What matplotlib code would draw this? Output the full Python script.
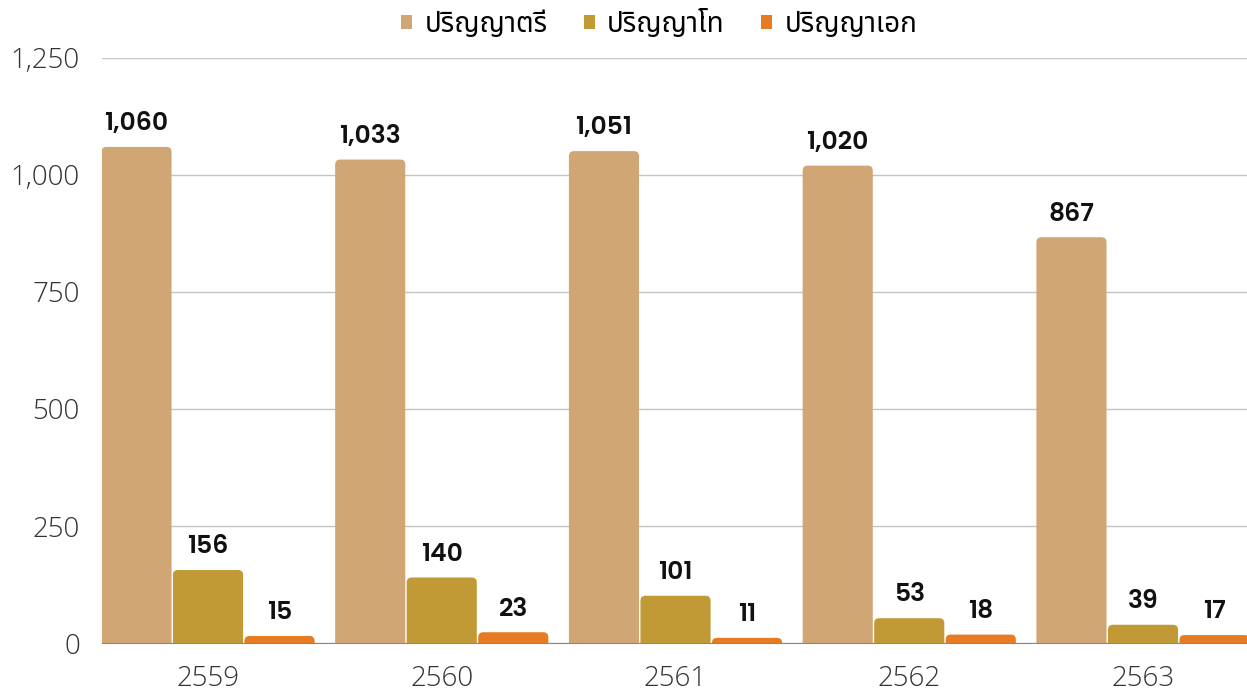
import matplotlib
matplotlib.use("Agg")
import matplotlib.pyplot as plt
from matplotlib.patches import FancyBboxPatch, Patch

years = ["2559", "2560", "2561", "2562", "2563"]
series_names = ["ปริญญาตรี", "ปริญญาโท", "ปริญญาเอก"]
bachelor = [1060, 1033, 1051, 1020, 867]
master = [156, 140, 101, 53, 39]
doctor = [15, 23, 11, 18, 17]
colors = ["#CFA674", "#C19A36", "#E87B22"]

plt.rcParams['font.family'] = ['Open Sans', 'Noto Sans Thai', 'DejaVu Sans']

fig = plt.figure(figsize=(12.47, 6.92), dpi=100)
ax = fig.add_axes([0.0818, 0.0708, 1 - 0.0818, 0.9162 - 0.0708])
ax.set_xlim(-0.4535, 4.445)
ax.set_ylim(0, 1250)

x = list(range(len(years)))
w = 0.30
offsets = [-0.306, 0.0, 0.306]
px_x = 233.75
px_y = 585.0 / 1250
r_px = 5.0
handles = []
for vals, off, c, name in zip([bachelor, master, doctor], offsets, colors, series_names):
    bars = ax.bar([xi + off for xi in x], vals, width=w, color=c, zorder=3)
    handles.append(Patch(facecolor=c, edgecolor="none", label=name))
    for b, v in zip(bars, vals):
        b.set_visible(False)
        bx, bw, bh = b.get_x(), b.get_width(), b.get_height()
        ext = 30
        p = FancyBboxPatch((bx, -ext), bw, bh + ext,
                           boxstyle=f"round,pad=0,rounding_size={r_px / px_x}",
                           mutation_aspect=(px_x / px_y),
                           facecolor=c, edgecolor="none", zorder=3, clip_on=True)
        ax.add_patch(p)
        ax.annotate(f"{v:,}", (bx + bw / 2, v), xytext=(0, 7),
                    textcoords="offset points", ha="center", va="bottom",
                    fontsize=18, fontweight=600, family=["Poppins", "DejaVu Sans"],
                    color="#111111", zorder=5)

ax.set_yticks([0, 250, 500, 750, 1000, 1250])
ax.set_yticklabels([f"{v:,}" for v in [0, 250, 500, 750, 1000, 1250]])
ax.set_xticks(x)
ax.set_xticklabels(years)
for lab in ax.get_xticklabels() + ax.get_yticklabels():
    lab.set_fontweight(300)
ax.tick_params(axis="both", length=0, labelsize=20, labelcolor="#333333")
ax.tick_params(axis="y", pad=16)
ax.tick_params(axis="x", pad=16)
ax.grid(axis="y", color="#c4c4c4", linewidth=1, zorder=0)
for s in ["top", "right", "left"]:
    ax.spines[s].set_visible(False)
ax.spines["bottom"].set_color("#888888")
ax.spines["bottom"].set_zorder(4)

fig.legend(handles=handles, loc="upper center", bbox_to_anchor=(0.5285, 1.022), ncol=3,
           frameon=False, prop={"family": ["Noto Sans Thai", "DejaVu Sans"], "size": 20},
           handlelength=0.4, handleheight=0.4, handletextpad=0.45, columnspacing=1.3)

fig.savefig("out.png", dpi=100)
